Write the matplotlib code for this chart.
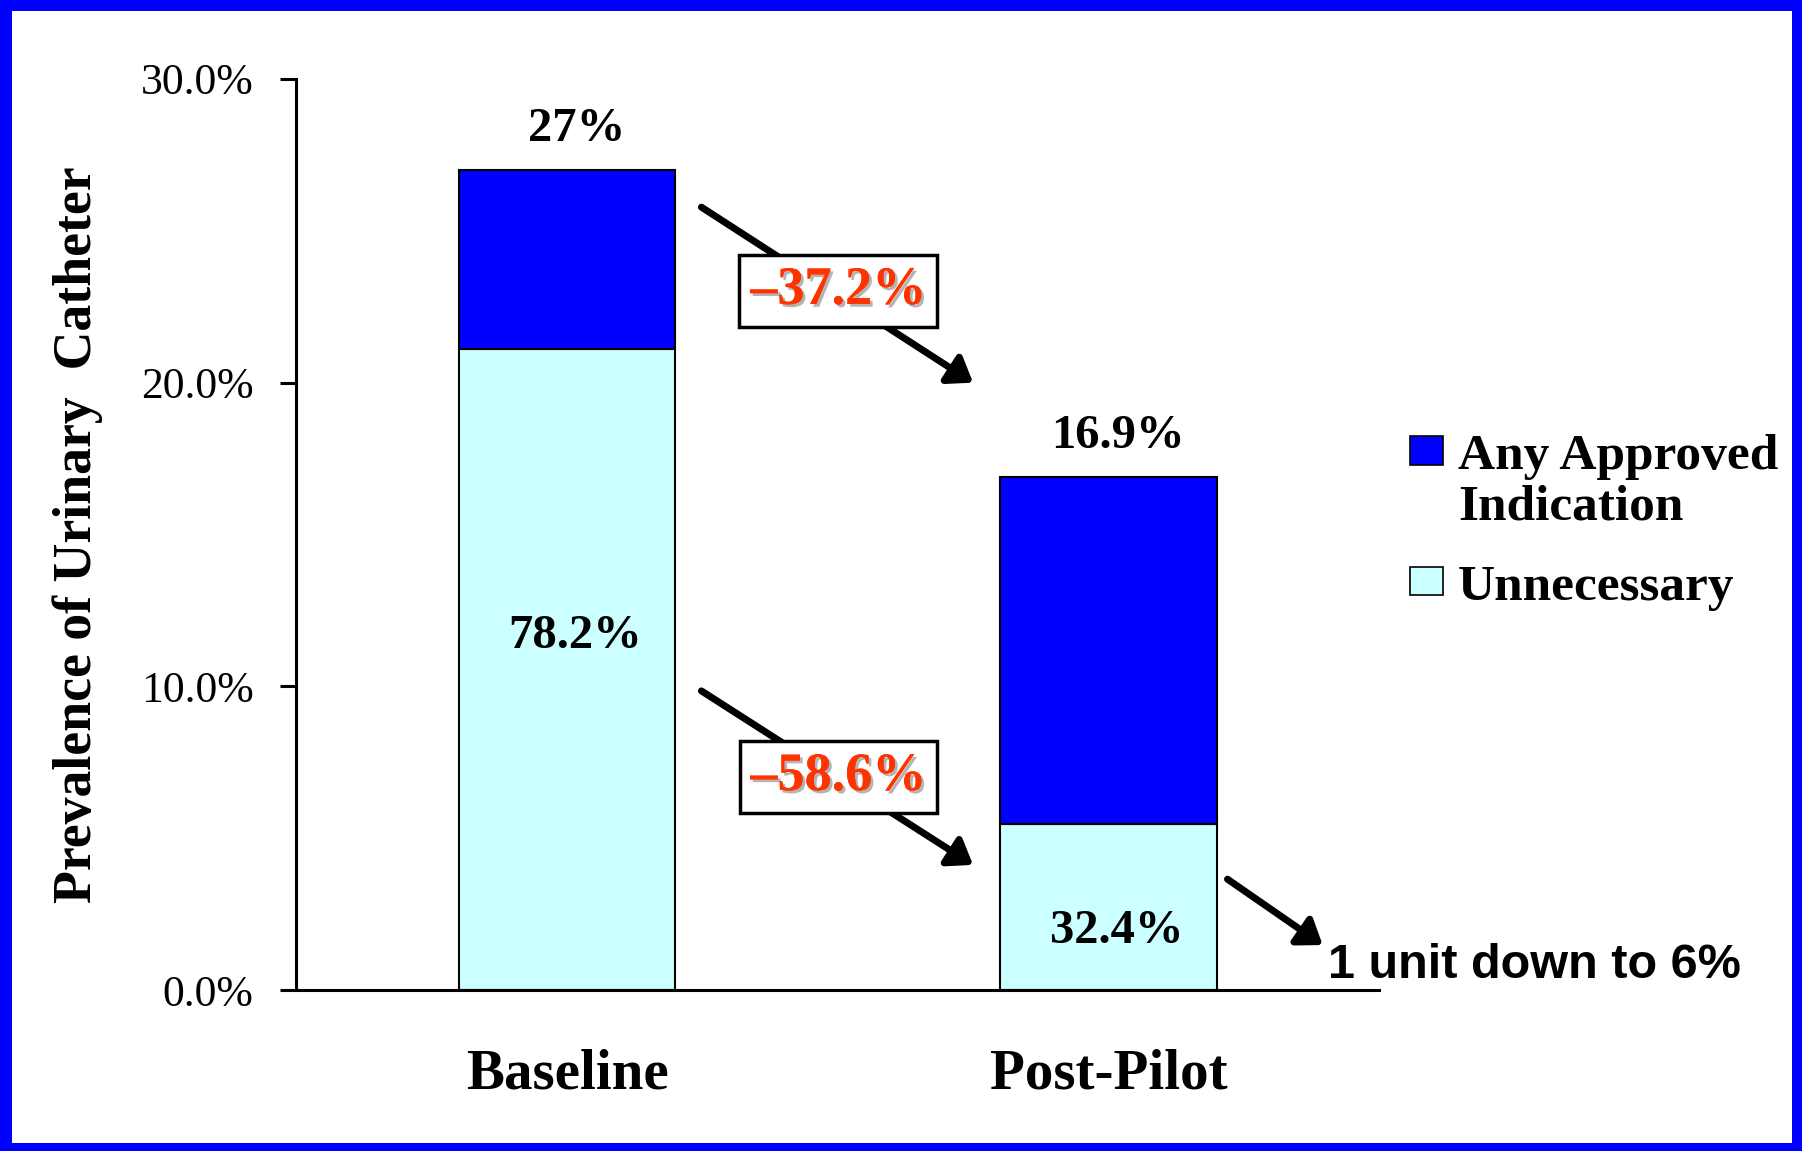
import matplotlib
matplotlib.use("Agg")
import matplotlib.pyplot as plt
from matplotlib.patches import Rectangle
import matplotlib.patheffects as pe

# ---- data ----
groups = ["Baseline", "Post-Pilot"]
total_pct = [27.0, 16.9]            # prevalence of urinary catheter
unnecessary_share = [78.2, 32.4]    # % of catheters without approved indication
change_labels = ["\u201337.2%", "\u201358.6%"]
total_labels = ["27%", "16.9%"]
share_labels = ["78.2%", "32.4%"]
yticks = [0, 10, 20, 30]
ytick_labels = ["0.0%", "10.0%", "20.0%", "30.0%"]
note = "1 unit down to 6%"

unnecessary = [t * s / 100 for t, s in zip(total_pct, unnecessary_share)]
approved = [t - u for t, u in zip(total_pct, unnecessary)]

SERIF = "Liberation Serif"
SANS = "Liberation Sans"
W, H = 1802, 1151
DARK = "#0000ff"
LIGHT = "#ccffff"
RED = "#ff3300"


def fx(x):
    return x / W


def fy(y):
    return 1 - y / H


fig = plt.figure(figsize=(W / 100, H / 100), dpi=100)
fig.patch.set_facecolor(DARK)
# white slide area inside the blue frame
fig.add_artist(Rectangle((fx(12), fy(H - 8)), (W - 22) / W, (H - 19) / H,
                         transform=fig.transFigure, fc="white", ec="none", zorder=-1))

ax = fig.add_axes([fx(296), fy(990), (1379 - 296) / W, (990 - 79) / H])
ax.set_facecolor("white")

x = list(range(len(groups)))
ax.bar(x, unnecessary, width=0.4, color=LIGHT, edgecolor="black", lw=1.5, zorder=2)
ax.bar(x, approved, width=0.4, bottom=unnecessary, color=DARK, edgecolor="black", lw=1.5, zorder=2)

ax.set_xlim(-0.501, 1.50)
ax.set_ylim(0, 30)

for s in ["top", "right"]:
    ax.spines[s].set_visible(False)
for s in ["left", "bottom"]:
    ax.spines[s].set_linewidth(2.2)

ax.set_yticks(yticks)
ax.set_yticklabels(ytick_labels, fontsize=31.5, family=SERIF)
ax.tick_params(axis="y", length=11.5, width=2.2, pad=19)
ax.set_xticks(x)
ax.set_xticklabels(groups, fontsize=41, family=SERIF, fontweight="bold")
ax.tick_params(axis="x", length=0, pad=42)

ax.set_ylabel("Prevalence of Urinary  Catheter", fontsize=38.7, family=SERIF,
              fontweight="bold", va="center")
ax.yaxis.set_label_coords(-0.202, 0.5)

# totals above the bars
for xi, t, lab in zip(x, total_pct, total_labels):
    ax.annotate(lab, (xi + 0.018, t), xytext=(0, 21), textcoords="offset points",
                ha="center", va="baseline", fontsize=35, family=SERIF, fontweight="bold")

# share of unnecessary catheters inside the light segments
share_y = [11.26, 1.55]
for xi, yy, lab in zip(x, share_y, share_labels):
    ax.text(xi + 0.015, yy, lab, ha="center", va="baseline", fontsize=35,
            family=SERIF, fontweight="bold", zorder=3)

# arrows with relative change boxes
arrow_style = "-|>,head_length=0.7,head_width=0.5"
arrows = [((0.248, 25.78), (0.750, 20.0)), ((0.248, 9.85), (0.750, 4.12))]
box_y = [23.02, 7.01]
for (start, end), yy, lab in zip(arrows, box_y, change_labels):
    ax.annotate("", xy=end, xytext=start,
                arrowprops=dict(arrowstyle=arrow_style, lw=5, color="black",
                                shrinkA=0, shrinkB=0, mutation_scale=20), zorder=4)
    ax.text(0.501, yy, lab, ha="center", va="center", fontsize=39, family=SERIF,
            fontweight="bold", color=RED, zorder=5,
            bbox=dict(boxstyle="square,pad=0.2", fc="white", ec="black", lw=2.5),
            path_effects=[pe.withSimplePatchShadow(offset=(2, -2), shadow_rgbFace="#b4b4b4", alpha=1),
                          pe.Normal()])

ax.annotate("", xy=(1.396, 1.48), xytext=(1.22, 3.65),
            arrowprops=dict(arrowstyle=arrow_style, lw=5, color="black",
                            shrinkA=0, shrinkB=0, mutation_scale=20), zorder=4)
ax.text(1.405, 0.40, note, ha="left", va="baseline", fontsize=35, family=SANS,
        fontweight="bold", zorder=5)

# legend
fig.add_artist(Rectangle((fx(1410), fy(465)), 33 / W, 29 / H, transform=fig.transFigure,
                         fc=DARK, ec="black", lw=1.2))
fig.add_artist(Rectangle((fx(1410), fy(595)), 33 / W, 28 / H, transform=fig.transFigure,
                         fc=LIGHT, ec="black", lw=1.2))
fig.text(fx(1458), fy(520), "Any Approved\nIndication", ha="left", va="baseline",
         fontsize=37, family=SERIF, fontweight="bold", linespacing=1.15)
fig.text(fx(1458), fy(600), "Unnecessary", ha="left", va="baseline",
         fontsize=37, family=SERIF, fontweight="bold")

fig.savefig("out.png", dpi=100)
